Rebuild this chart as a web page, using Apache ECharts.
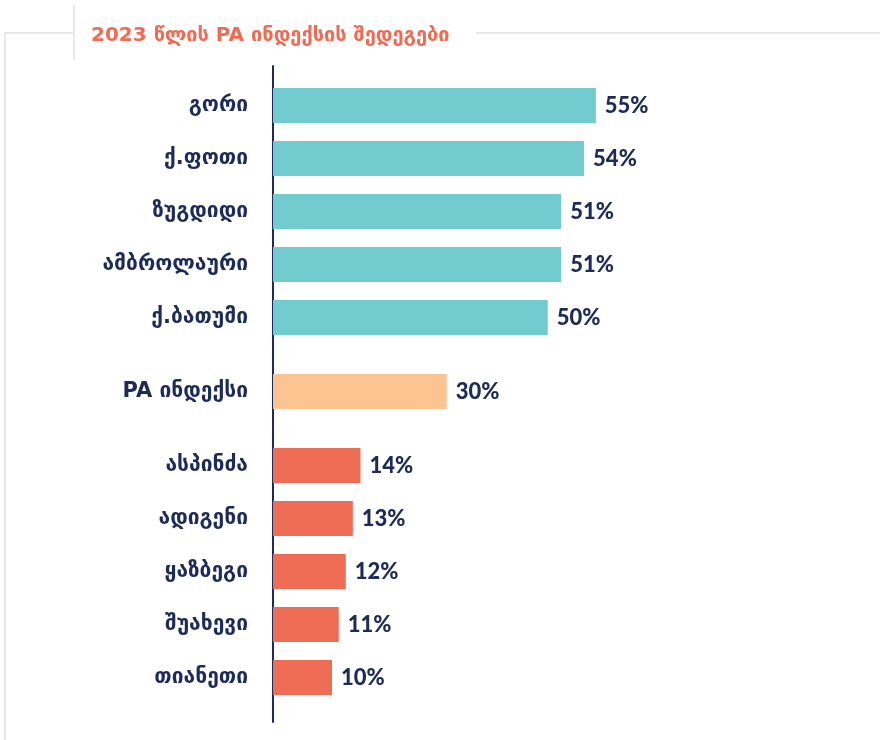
<!DOCTYPE html>
<html>
<head>
<meta charset="utf-8">
<script src="https://cdn.jsdelivr.net/npm/echarts@6/dist/echarts.min.js"></script>
<style>
  html, body { margin: 0; padding: 0; background: #fff; }
  #chart { width: 880px; height: 740px; }
</style>
</head>
<body>
<div id="chart"></div>
<script>
// 上组：最高的五个城市
const topNames = ['გორი', 'ქ.ფოთი', 'ზუგდიდი', 'ამბროლაური', 'ქ.ბათუმი'];
const topValues = [55, 53, 49.1, 49.1, 46.8];
const topLabels = ['55%', '54%', '51%', '51%', '50%'];
// 中间：PA 指数
const midNames = ['PA ინდექსი'];
const midValues = [29.6];
const midLabels = ['30%'];
// 下组：最低的五个
const lowNames = ['ასპინძა', 'ადიგენი', 'ყაზბეგი', 'შუახევი', 'თიანეთი'];
const lowValues = [14.9, 13.6, 12.4, 11.2, 10.05];
const lowLabels = ['14%', '13%', '12%', '11%', '10%'];

const titleText = '2023 წლის PA ინდექსის შედეგები';
const navy = '#1d2b58';
const geoFont = "'DejaVu Sans', 'Noto Sans', sans-serif";
const numFont = "Lato, 'DejaVu Sans', sans-serif";

let chart = echarts.init(document.getElementById('chart'));

function makeGrid(top, height) {
  return { left: 273, width: 587, top: top, height: height };
}
function makeX(idx) {
  return { type: 'value', gridIndex: idx, min: 0, max: 100, show: false };
}
function makeY(idx, names) {
  return {
    type: 'category', gridIndex: idx, data: names, inverse: true,
    axisLine: { show: false }, axisTick: { show: false },
    axisLabel: {
      margin: 25, color: navy, fontSize: 21, fontWeight: 'bold',
      fontFamily: geoFont
    }
  };
}
function makeSeries(idx, values, labels, color) {
  return {
    type: 'bar', xAxisIndex: idx, yAxisIndex: idx, data: values,
    barWidth: 35, itemStyle: { color: color }, silent: true,
    label: {
      show: true, position: 'right', distance: 9,
      formatter: p => labels[p.dataIndex],
      color: navy, fontSize: 22, fontWeight: 900, fontFamily: numFont
    }
  };
}

chart.setOption({
  animation: false,
  backgroundColor: '#fff',
  title: {
    text: titleText, left: 86, top: 21,
    textStyle: { color: '#f06b52', fontSize: 20, fontWeight: 'bold', fontFamily: geoFont }
  },
  graphic: [
    { type: 'polyline', shape: { points: [[5, 740], [5, 33], [74, 33]] }, style: { stroke: '#e8e8e8', lineWidth: 2, fill: null } },
    { type: 'line', shape: { x1: 74, y1: 5, x2: 74, y2: 60 }, style: { stroke: '#e8e8e8', lineWidth: 2 } },
    { type: 'line', shape: { x1: 476, y1: 33, x2: 880, y2: 33 }, style: { stroke: '#e8e8e8', lineWidth: 2 } }
  ],
  grid: [
    makeGrid(79, 265),
    makeGrid(365, 53),
    makeGrid(439, 265),
    makeGrid(66, 656)
  ],
  xAxis: [makeX(0), makeX(1), makeX(2), makeX(3)],
  yAxis: [
    makeY(0, topNames),
    makeY(1, midNames),
    makeY(2, lowNames),
    {
      type: 'value', gridIndex: 3, min: 0, max: 1,
      axisLine: { show: true, lineStyle: { color: navy, width: 2 } },
      axisTick: { show: false }, axisLabel: { show: false }, splitLine: { show: false }
    }
  ],
  series: [
    makeSeries(0, topValues, topLabels, '#72cbce'),
    makeSeries(1, midValues, midLabels, '#fbc490'),
    makeSeries(2, lowValues, lowLabels, '#f06d55')
  ]
});
</script>
</body>
</html>
